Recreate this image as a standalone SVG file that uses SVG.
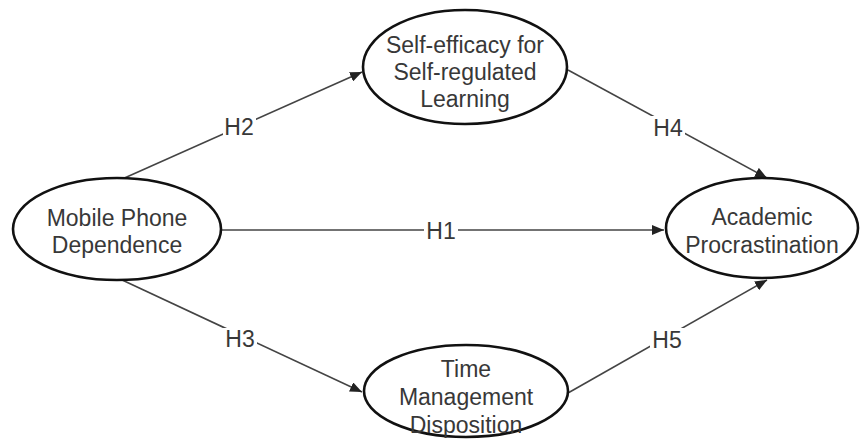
<svg xmlns="http://www.w3.org/2000/svg" width="862" height="443" viewBox="0 0 862 443">
<defs>
<style>
.node ellipse{fill:#fff;stroke:#111;stroke-width:2.6}
.node text{font-family:"Liberation Sans",Arial,sans-serif;font-size:23px;fill:#383838;text-anchor:middle}
.edge line{stroke:#444;stroke-width:1.6}
.lbl rect{fill:#fff}
.lbl text{font-family:"Liberation Sans",Arial,sans-serif;font-size:23px;fill:#383838;text-anchor:middle}
</style>
<marker id="arr" viewBox="0 0 12 10" refX="12" refY="5" markerWidth="12" markerHeight="10" markerUnits="userSpaceOnUse" orient="auto">
<path d="M0,0 L12,5 L0,10 Z" fill="#222"/>
</marker>
</defs>
<rect width="862" height="443" fill="#fff"/>
<g id="connectors">
<g class="edge"><line x1="120" y1="180" x2="362" y2="72" marker-end="url(#arr)"/></g>
<g class="edge"><line x1="120" y1="279" x2="362" y2="392" marker-end="url(#arr)"/></g>
<g class="edge"><line x1="222" y1="230" x2="664" y2="230" marker-end="url(#arr)"/></g>
<g class="edge"><line x1="568" y1="70" x2="767" y2="178" marker-end="url(#arr)"/></g>
<g class="edge"><line x1="568" y1="393" x2="767" y2="280" marker-end="url(#arr)"/></g>
<g class="lbl"><rect x="223" y="116" width="33" height="24"/><text x="239" y="135">H2</text></g>
<g class="lbl"><rect x="223" y="328" width="34" height="24"/><text x="240" y="347">H3</text></g>
<g class="lbl"><rect x="424" y="219" width="34" height="24"/><text x="441" y="239">H1</text></g>
<g class="lbl"><rect x="651" y="116" width="34" height="24"/><text x="668" y="136">H4</text></g>
<g class="lbl"><rect x="650" y="328" width="35" height="24"/><text x="667" y="348">H5</text></g>
</g>
<g id="mobile" class="node">
<ellipse cx="117" cy="229" rx="104" ry="51"/>
<text x="117" y="226">Mobile Phone</text>
<text x="117" y="253">Dependence</text>
</g>
<g id="selfefficacy" class="node">
<ellipse cx="465" cy="67" rx="102" ry="57"/>
<text x="465" y="53">Self-efficacy for</text>
<text x="465" y="80">Self-regulated</text>
<text x="465" y="107">Learning</text>
</g>
<g id="academic" class="node">
<ellipse cx="762" cy="228" rx="96" ry="50"/>
<text x="762" y="225">Academic</text>
<text x="762" y="253">Procrastination</text>
</g>
<g id="time" class="node">
<ellipse cx="466" cy="391" rx="102" ry="46"/>
<text x="466" y="377">Time</text>
<text x="466" y="405">Management</text>
<text x="466" y="433">Disposition</text>
</g>
</svg>
